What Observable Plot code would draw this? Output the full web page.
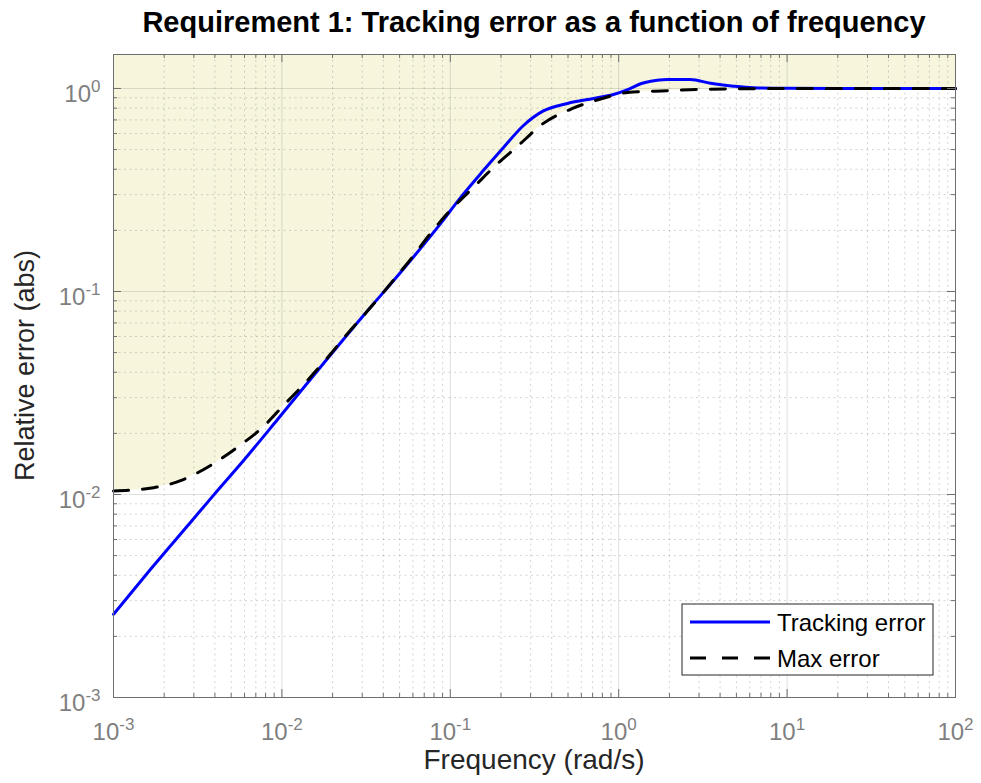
<!DOCTYPE html>
<html>
<head>
<meta charset="utf-8">
<script src="https://cdn.jsdelivr.net/npm/d3@7"></script>
<script src="https://cdn.jsdelivr.net/npm/@observablehq/plot@0.6"></script>
<style>
  html, body { margin: 0; padding: 0; background: #fff; }
  #chart { width: 981px; height: 783px; }
</style>
</head>
<body>
<div id="chart"></div>
<script>
// ---- data ----
const trackFreq = [0.001, 0.00166, 0.00287, 0.00392, 0.00592, 0.00942, 0.0177, 0.0305, 0.0506, 0.0875, 0.115, 0.157, 0.207, 0.272, 0.357, 0.497, 0.708, 0.93, 1.14, 1.35, 1.55, 1.94, 2.67, 3.51, 4.81, 6.3, 10, 20, 100];
const trackErr  = [0.00257, 0.00428, 0.00730, 0.00990, 0.0147, 0.0234, 0.0443, 0.0762, 0.124, 0.216, 0.290, 0.394, 0.512, 0.657, 0.775, 0.844, 0.893, 0.934, 0.99, 1.055, 1.086, 1.107, 1.107, 1.06, 1.026, 1.008, 1.002, 1.0, 1.0];

const maxFreq = [0.001, 0.00173, 0.0025, 0.00377, 0.00545, 0.00767, 0.0102, 0.0142, 0.0187, 0.0249, 0.0336, 0.0441, 0.0604, 0.0762, 0.100, 0.137, 0.186, 0.254, 0.357, 0.532, 0.80, 1.13, 1.95, 3.06, 5, 10, 100];
const maxErr  = [0.0104, 0.0108, 0.0117, 0.0139, 0.0171, 0.0214, 0.0274, 0.0365, 0.0473, 0.0629, 0.0833, 0.109, 0.150, 0.193, 0.251, 0.325, 0.418, 0.524, 0.673, 0.797, 0.893, 0.955, 0.975, 0.99, 0.996, 1.0, 1.0];

const xMajor = [1e-3, 1e-2, 1e-1, 1e0, 1e1, 1e2];
const yMajor = [1e-3, 1e-2, 1e-1, 1e0];
const xTickLabels = ["10^-3", "10^-2", "10^-1", "10^0", "10^1", "10^2"];
const yTickLabels = ["10^-3", "10^-2", "10^-1", "10^0"];
const minorMult = [2, 3, 4, 5, 6, 7, 8, 9];
const xDomain = [1e-3, 1e2];
const yDomain = [1e-3, 1.47];

const titleText = "Requirement 1: Tracking error as a function of frequency";
const xLabelText = "Frequency (rad/s)";
const yLabelText = "Relative error (abs)";
const legendNames = ["Tracking error", "Max error"];

// ---- derived tables ----
const xMinor = xMajor.slice(0, -1).flatMap(d => minorMult.map(m => d * m));
const yMinor = yMajor.slice(0, -1).flatMap(d => minorMult.map(m => d * m)).filter(v => v <= yDomain[1]);
const track = trackFreq.map((f, i) => ({f, v: trackErr[i]}));
const maxE = maxFreq.map((f, i) => ({f, v: maxErr[i]}));
const xLab = new Map(xMajor.map((d, i) => [d, xTickLabels[i]]));
const yLab = new Map(yMajor.map((d, i) => [d, yTickLabels[i]]));

const W = 981, H = 783, mT = 54, mR = 26, mB = 86, mL = 113;
const iW = W - mL - mR, iH = H - mT - mB;
const FONT = "'Liberation Sans', Arial, Helvetica, sans-serif";
const gridCol = "#262626";
const axisCol = "#6e6e6e";

const chart = Plot.plot({
  width: W, height: H,
  marginTop: mT, marginRight: mR, marginBottom: mB, marginLeft: mL,
  x: {type: "log", domain: xDomain},
  y: {type: "log", domain: yDomain},
  style: {fontFamily: FONT, background: "white", overflow: "visible"},
  marks: [
    // shaded region above the max-error bound
    Plot.areaY(maxE, {x: "f", y1: "v", y2: () => yDomain[1], fill: "rgb(247,246,221)", curve: "monotone-x"}),
    // minor grid
    Plot.ruleX(xMinor, {stroke: gridCol, strokeOpacity: 0.2, strokeDasharray: "2,3.5"}),
    Plot.ruleY(yMinor, {stroke: gridCol, strokeOpacity: 0.2, strokeDasharray: "2,3.5"}),
    // major grid
    Plot.ruleX(xMajor, {stroke: gridCol, strokeOpacity: 0.15}),
    Plot.ruleY(yMajor, {stroke: gridCol, strokeOpacity: 0.15}),
    // curves
    Plot.line(track, {x: "f", y: "v", stroke: "#0000ff", strokeWidth: 3, curve: "monotone-x"}),
    Plot.line(maxE, {x: "f", y: "v", stroke: "#000000", strokeWidth: 3, strokeDasharray: "15,14", curve: "monotone-x"}),
    // inward tick marks on all four sides
    Plot.tickX(xMajor, {x: d => d, insetTop: iH - 8, stroke: axisCol}),
    Plot.tickX(xMajor, {x: d => d, insetBottom: iH - 8, stroke: axisCol}),
    Plot.tickX(xMinor, {x: d => d, insetTop: iH - 4, stroke: axisCol}),
    Plot.tickX(xMinor, {x: d => d, insetBottom: iH - 4, stroke: axisCol}),
    Plot.tickY(yMajor, {y: d => d, insetRight: iW - 8, stroke: axisCol}),
    Plot.tickY(yMajor, {y: d => d, insetLeft: iW - 8, stroke: axisCol}),
    Plot.tickY(yMinor, {y: d => d, insetRight: iW - 4, stroke: axisCol}),
    Plot.tickY(yMinor, {y: d => d, insetLeft: iW - 4, stroke: axisCol}),
    Plot.frame({stroke: axisCol}),
    // tick labels
    Plot.axisX(xMajor, {anchor: "bottom", tickSize: 0, tickPadding: 25, tickFormat: d => xLab.get(d), fontSize: 24, fill: "#7f7f7f", label: null}),
    Plot.axisY(yMajor, {anchor: "left", tickSize: 0, tickPadding: 13, tickFormat: d => yLab.get(d), fontSize: 24, fill: "#7f7f7f", dy: 6, label: null})
  ]
});

document.getElementById("chart").appendChild(chart);
const svg = d3.select(chart);

// superscript exponents in tick labels
svg.selectAll('g[aria-label="x-axis tick label"] text, g[aria-label="y-axis tick label"] text').each(function() {
  const s = this.textContent;
  const m = s.match(/^10\^(.+)$/);
  if (!m) return;
  const t = d3.select(this);
  t.text(null);
  t.append("tspan").text("10");
  t.append("tspan").attr("dy", "-10").attr("font-size", 17).text(m[1]);
});

// title
svg.append("text")
  .attr("x", mL + iW / 2).attr("y", 32)
  .attr("text-anchor", "middle")
  .attr("font-family", FONT).attr("font-weight", "bold").attr("font-size", 29)
  .attr("fill", "#000")
  .text(titleText);

// x label
svg.append("text")
  .attr("x", mL + iW / 2).attr("y", 769)
  .attr("text-anchor", "middle")
  .attr("font-family", FONT).attr("font-size", 28)
  .attr("fill", "#262626")
  .text(xLabelText);

// y label
svg.append("text")
  .attr("transform", `translate(34,${mT + iH / 2 - 10}) rotate(-90)`)
  .attr("text-anchor", "middle")
  .attr("font-family", FONT).attr("font-size", 27)
  .attr("fill", "#262626")
  .text(yLabelText);

// legend (inside the axes, lower right)
const lg = svg.append("g").attr("transform", "translate(682,604)");
lg.append("rect").attr("width", 251).attr("height", 71).attr("fill", "#fff").attr("stroke", "#262626").attr("stroke-width", 1);
lg.append("line").attr("x1", 8).attr("x2", 88).attr("y1", 18).attr("y2", 18).attr("stroke", "#0000ff").attr("stroke-width", 3);
lg.append("line").attr("x1", 8).attr("x2", 88).attr("y1", 54).attr("y2", 54).attr("stroke", "#000").attr("stroke-width", 3).attr("stroke-dasharray", "16,16");
lg.append("text").attr("x", 95).attr("y", 26.5).attr("text-anchor", "start").attr("font-family", FONT).attr("font-size", 24).attr("fill", "#000").text(legendNames[0]);
lg.append("text").attr("x", 95).attr("y", 62.5).attr("text-anchor", "start").attr("font-family", FONT).attr("font-size", 24).attr("fill", "#000").text(legendNames[1]);
</script>
</body>
</html>
